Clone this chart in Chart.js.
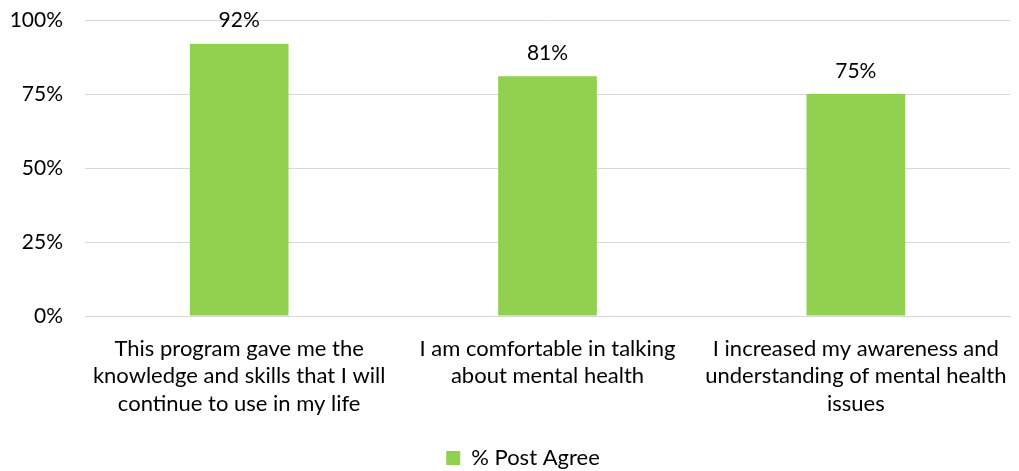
<!DOCTYPE html>
<html>
<head>
<meta charset="utf-8">
<script src="https://cdn.jsdelivr.net/npm/chart.js@4"></script>
<style>
  html, body { margin: 0; padding: 0; background: #fff; }
  #wrap { width: 1019px; height: 471px; }
</style>
</head>
<body>
<div id="wrap"><canvas id="chart"></canvas></div>
<script>
// Data
const categories = [
  ['This program gave me the', 'knowledge and skills that I will', 'continue to use in my life'],
  ['I am comfortable in talking', 'about mental health'],
  ['I increased my awareness and', 'understanding of mental health', 'issues'],
];
const postAgree = [92, 81, 75];
const seriesName = '% Post Agree';
const yTicks = [0, 25, 50, 75, 100];

const FONT = 'Lato, "Open Sans", sans-serif';

// Draw value labels above each bar
const valueLabels = {
  id: 'valueLabels',
  afterDatasetsDraw(chart) {
    const ctx = chart.ctx;
    const meta = chart.getDatasetMeta(0);
    ctx.save();
    ctx.font = '21px ' + FONT;
    ctx.fillStyle = '#000';
    ctx.textAlign = 'center';
    ctx.textBaseline = 'middle';
    meta.data.forEach((bar, i) => {
      ctx.fillText(postAgree[i] + '%', bar.x, bar.y - 23);
    });
    ctx.restore();
  },
};

// The legend in the original sits a bit right of centre
const legendShift = {
  id: 'legendShift',
  afterLayout(chart) {
    chart.legend.left += 18;
    chart.legend.right += 18;
  },
};

new Chart(document.getElementById('chart'), {
  type: 'bar',
  data: {
    labels: categories,
    datasets: [
      {
        label: seriesName,
        data: postAgree,
        backgroundColor: '#92D050',
        categoryPercentage: 1,
        barPercentage: 0.32,
      },
    ],
  },
  options: {
    responsive: true,
    maintainAspectRatio: false,
    animation: false,
    layout: { padding: { top: 20, right: 9, bottom: -8, left: 0 } },
    plugins: {
      legend: {
        position: 'bottom',
        labels: {
          boxWidth: 14,
          boxHeight: 14,
          color: '#000',
          font: { family: FONT, size: 22 },
          padding: 2,
        },
      },
      tooltip: { enabled: false },
    },
    scales: {
      x: {
        afterFit: (axis) => {
          axis.height = 129;
          axis.paddingLeft = 0;
          axis.paddingRight = 0;
        },
        grid: { display: false },
        border: { color: '#d9d9d9', width: 1 },
        ticks: {
          color: '#000',
          font: { family: FONT, size: 22, lineHeight: 1.25 },
          padding: 11,
          maxRotation: 0,
          autoSkip: false,
        },
      },
      y: {
        min: 0,
        max: 100,
        afterBuildTicks: (axis) => {
          axis.ticks = yTicks.map((v) => ({ value: v }));
        },
        afterFit: (axis) => {
          axis.width = 85;
          axis.paddingTop = 0;
          axis.paddingBottom = 0;
        },
        grid: { color: '#d9d9d9', lineWidth: 1, drawTicks: false },
        border: { display: false },
        ticks: {
          color: '#000',
          font: { family: FONT, size: 21 },
          padding: 22,
          callback: (v) => v + '%',
        },
      },
    },
  },
  plugins: [valueLabels, legendShift],
});
</script>
</body>
</html>
